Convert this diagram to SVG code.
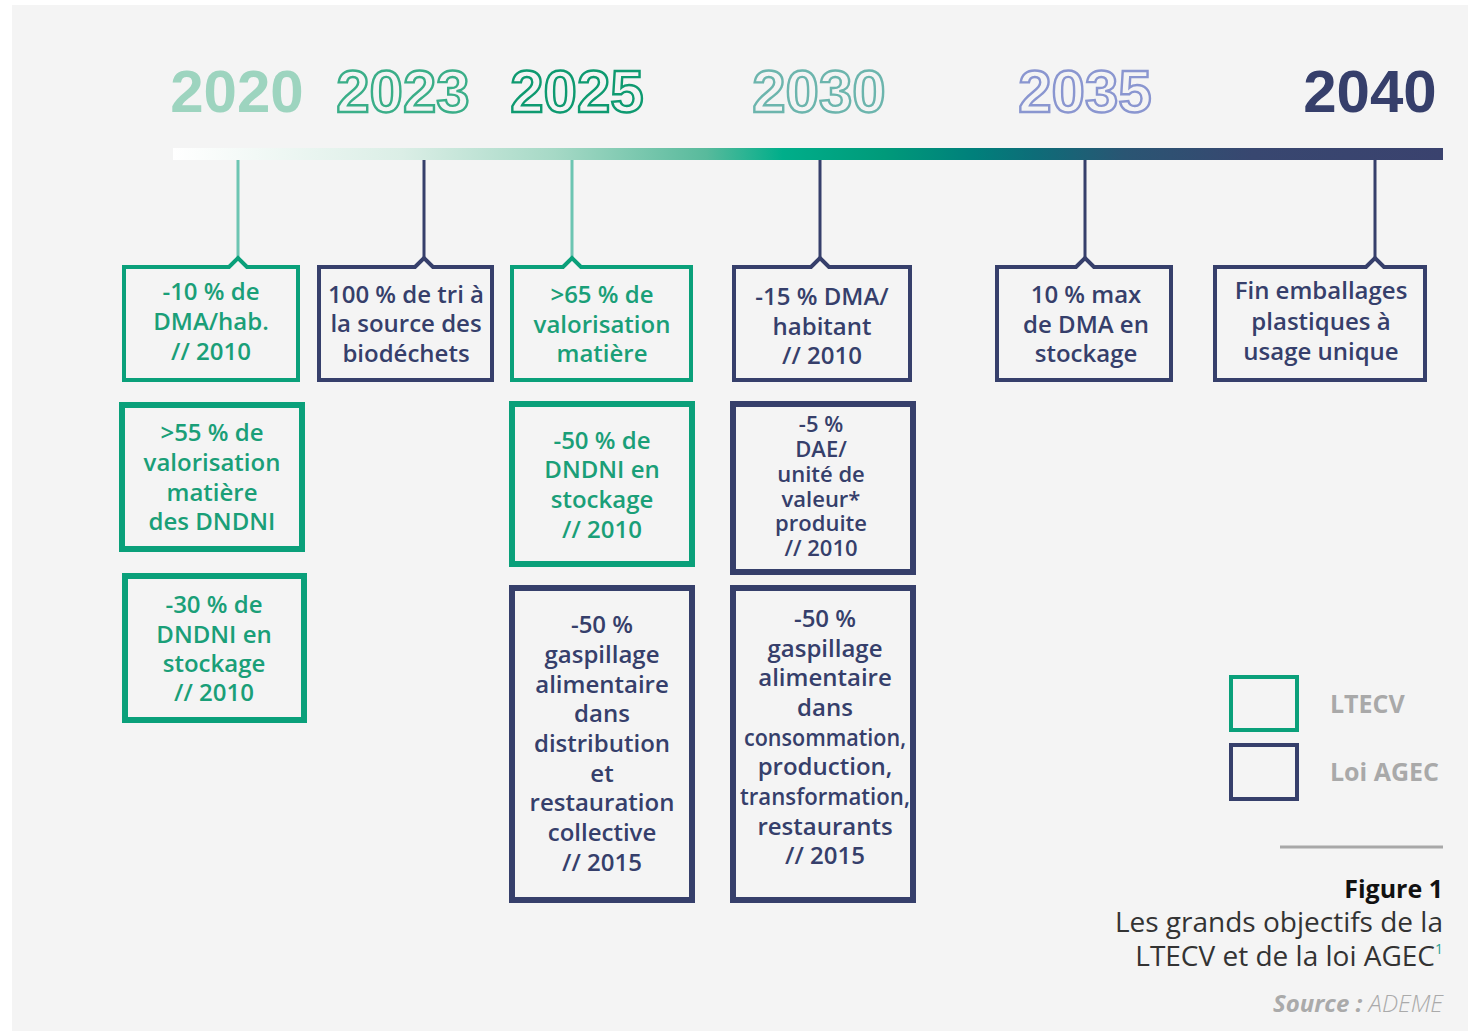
<svg xmlns="http://www.w3.org/2000/svg" width="1473" height="1033" viewBox="0 0 1473 1033">
  <defs>
    <linearGradient id="barGrad" gradientUnits="userSpaceOnUse" x1="173" y1="0" x2="1443" y2="0">
      <stop offset="0" stop-color="#ffffff"/>
      <stop offset="0.18" stop-color="#dbeee6"/>
      <stop offset="0.30" stop-color="#a6d9c6"/>
      <stop offset="0.42" stop-color="#58ba9c"/>
      <stop offset="0.48" stop-color="#00ae8a"/>
      <stop offset="0.56" stop-color="#009a7a"/>
      <stop offset="0.63" stop-color="#00807b"/>
      <stop offset="0.68" stop-color="#0e6c78"/>
      <stop offset="0.75" stop-color="#2a5573"/>
      <stop offset="0.85" stop-color="#384770"/>
      <stop offset="1" stop-color="#3a426e"/>
    </linearGradient>
    <style>
      .yr { font-family: "Liberation Sans", Arial, sans-serif; font-weight: bold; font-size: 60px; text-anchor: middle; }
      .yo { fill: #f4f4f4; stroke-width: 2.4; }
      .stem { stroke-width: 3; fill: none; }
      .box { fill: none; stroke-linejoin: miter; }
      .thin { stroke-width: 4; }
      .thick { stroke-width: 6; }
      .gs { stroke: #0aa07a; }
      .ns { stroke: #363f6b; }
      .t { font-family: "Open Sans", "Noto Sans", sans-serif; font-weight: 600; font-size: 24px; text-anchor: middle; }
      .tight { font-size: 22px; }
      .gt { fill: #1a9f78; }
      .nt { fill: #363f6b; }
      .leg { font-family: "Open Sans", "Noto Sans", sans-serif; font-weight: bold; font-size: 25px; fill: #a9a9a9; }
      .cap { font-family: "Open Sans", "Noto Sans", sans-serif; text-anchor: end; }
    </style>
  </defs>

  <!-- panel background -->
  <rect x="0" y="0" width="1473" height="1033" fill="#ffffff"/>
  <rect x="12" y="5" width="1456" height="1026" fill="#f4f4f4"/>

  <!-- year headings -->
  <g id="years">
    <text class="yr" x="237" y="112" fill="#9dd4bf">2020</text>
    <text class="yr yo" x="403" y="112" stroke="#3aae88">2023</text>
    <text class="yr yo" x="577" y="112" stroke="#0e9a70">2025</text>
    <text class="yr yo" x="819" y="112" stroke="#6cb5ad">2030</text>
    <text class="yr yo" x="1085" y="112" stroke="#8a96d0">2035</text>
    <text class="yr" x="1370" y="112" fill="#363f6b">2040</text>
  </g>

  <!-- timeline bar -->
  <rect id="timeline" x="173" y="148" width="1270" height="12" fill="url(#barGrad)"/>

  <!-- stems from the timeline to the first row of boxes -->
  <g id="connectors">
    <line class="stem" x1="238" y1="160" x2="238" y2="259" stroke="#6cc5b2"/>
    <line class="stem" x1="424" y1="160" x2="424" y2="259" stroke="#363f6b"/>
    <line class="stem" x1="572" y1="160" x2="572" y2="259" stroke="#6cc5b2"/>
    <line class="stem" x1="820" y1="160" x2="820" y2="259" stroke="#363f6b"/>
    <line class="stem" x1="1085" y1="160" x2="1085" y2="259" stroke="#363f6b"/>
    <line class="stem" x1="1375" y1="160" x2="1375" y2="259" stroke="#363f6b"/>
  </g>

  <!-- first row: notched boxes -->
  <g id="n2020a">
    <path class="box thin gs" d="M124 267 H229 L238 258 L247 267 H298 V380 H124 Z"/>
    <text class="t gt" x="211" y="300">-10 % de</text>
    <text class="t gt" x="211" y="330">DMA/hab.</text>
    <text class="t gt" x="211" y="360">// 2010</text>
  </g>
  <g id="n2023">
    <path class="box thin ns" d="M319 267 H415 L424 258 L433 267 H492 V380 H319 Z"/>
    <text class="t nt" x="406" y="303">100 % de tri à</text>
    <text class="t nt" x="406" y="332">la source des</text>
    <text class="t nt" x="406" y="362">biodéchets</text>
  </g>
  <g id="n2025a">
    <path class="box thin gs" d="M512 267 H563 L572 258 L581 267 H691 V380 H512 Z"/>
    <text class="t gt" x="602" y="303">&gt;65 % de</text>
    <text class="t gt" x="602" y="333">valorisation</text>
    <text class="t gt" x="602" y="362">matière</text>
  </g>
  <g id="n2030a">
    <path class="box thin ns" d="M734 267 H811 L820 258 L829 267 H910 V380 H734 Z"/>
    <text class="t nt" x="822" y="305">-15 % DMA/</text>
    <text class="t nt" x="822" y="335">habitant</text>
    <text class="t nt" x="822" y="364">// 2010</text>
  </g>
  <g id="n2035">
    <path class="box thin ns" d="M997 267 H1076 L1085 258 L1094 267 H1171 V380 H997 Z"/>
    <text class="t nt" x="1086" y="303">10 % max</text>
    <text class="t nt" x="1086" y="333">de DMA en</text>
    <text class="t nt" x="1086" y="362">stockage</text>
  </g>
  <g id="n2040">
    <path class="box thin ns" d="M1215 267 H1366 L1375 258 L1384 267 H1425 V380 H1215 Z"/>
    <text class="t nt" x="1321" y="299">Fin emballages</text>
    <text class="t nt" x="1321" y="330">plastiques à</text>
    <text class="t nt" x="1321" y="360">usage unique</text>
  </g>

  <!-- second and third rows -->
  <g id="n2020b">
    <rect class="box thick gs" x="122" y="405" width="180" height="144"/>
    <text class="t gt" x="212" y="441">&gt;55 % de</text>
    <text class="t gt" x="212" y="471">valorisation</text>
    <text class="t gt" x="212" y="501">matière</text>
    <text class="t gt" x="212" y="530">des DNDNI</text>
  </g>
  <g id="n2020c">
    <rect class="box thick gs" x="125" y="576" width="179" height="144"/>
    <text class="t gt" x="214" y="613">-30 % de</text>
    <text class="t gt" x="214" y="643">DNDNI en</text>
    <text class="t gt" x="214" y="672">stockage</text>
    <text class="t gt" x="214" y="701">// 2010</text>
  </g>
  <g id="n2025b">
    <rect class="box thick gs" x="512" y="404" width="180" height="160"/>
    <text class="t gt" x="602" y="449">-50 % de</text>
    <text class="t gt" x="602" y="478">DNDNI en</text>
    <text class="t gt" x="602" y="508">stockage</text>
    <text class="t gt" x="602" y="538">// 2010</text>
  </g>
  <g id="n2030b">
    <rect class="box thick ns" x="733" y="404" width="180" height="168"/>
    <text class="t tight nt" x="821" y="432">-5 %</text>
    <text class="t tight nt" x="821" y="457">DAE/</text>
    <text class="t tight nt" x="821" y="482">unité de</text>
    <text class="t tight nt" x="821" y="507">valeur*</text>
    <text class="t tight nt" x="821" y="531">produite</text>
    <text class="t tight nt" x="821" y="556">// 2010</text>
  </g>
  <g id="n2025c">
    <rect class="box thick ns" x="512" y="588" width="180" height="312"/>
    <text class="t nt" x="602" y="633">-50 %</text>
    <text class="t nt" x="602" y="663">gaspillage</text>
    <text class="t nt" x="602" y="693">alimentaire</text>
    <text class="t nt" x="602" y="722">dans</text>
    <text class="t nt" x="602" y="752">distribution</text>
    <text class="t nt" x="602" y="782">et</text>
    <text class="t nt" x="602" y="811">restauration</text>
    <text class="t nt" x="602" y="841">collective</text>
    <text class="t nt" x="602" y="871">// 2015</text>
  </g>
  <g id="n2030c">
    <rect class="box thick ns" x="733" y="588" width="180" height="312"/>
    <text class="t nt" x="825" y="627">-50 %</text>
    <text class="t nt" x="825" y="657">gaspillage</text>
    <text class="t nt" x="825" y="686">alimentaire</text>
    <text class="t nt" x="825" y="716">dans</text>
    <text class="t nt" x="825" y="746" textLength="162" lengthAdjust="spacingAndGlyphs">consommation,</text>
    <text class="t nt" x="825" y="775">production,</text>
    <text class="t nt" x="825" y="805" textLength="170" lengthAdjust="spacingAndGlyphs">transformation,</text>
    <text class="t nt" x="825" y="835">restaurants</text>
    <text class="t nt" x="825" y="864">// 2015</text>
  </g>

  <!-- legend -->
  <g id="legend">
    <rect class="box thin gs" x="1231" y="677" width="66" height="53"/>
    <text class="leg" x="1330" y="713">LTECV</text>
    <rect class="box thin ns" x="1231" y="745" width="66" height="54"/>
    <text class="leg" x="1330" y="781">Loi AGEC</text>
  </g>

  <!-- caption -->
  <g id="caption">
    <line x1="1280" y1="847" x2="1443" y2="847" stroke="#a8a8a8" stroke-width="3"/>
    <text class="cap" x="1443" y="898" font-size="25" font-weight="bold" fill="#111111">Figure 1</text>
    <text class="cap" x="1443" y="932" font-size="28" fill="#333333">Les grands objectifs de la</text>
    <text class="cap" x="1443" y="966" font-size="28" fill="#333333">LTECV et de la loi AGEC<tspan font-size="14" dy="-12" fill="#2a9d8f">1</tspan></text>
    <text class="cap" x="1443" y="1012" font-size="24" font-style="italic" fill="#aaaaaa"><tspan font-weight="bold">Source :</tspan> <tspan font-weight="300">ADEME</tspan></text>
  </g>
</svg>
